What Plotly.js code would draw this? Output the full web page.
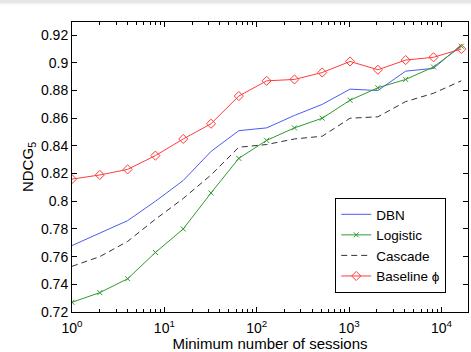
<!DOCTYPE html>
<html>
<head>
<meta charset="utf-8">
<script src="https://cdn.plot.ly/plotly-3.0.1.min.js"></script>
<style>html,body{margin:0;padding:0;background:#fff;}#chart{width:471px;height:352px;}</style>
</head>
<body>
<div id="chart"></div>
<script>
const sessions = [1, 2, 4, 8, 16, 32, 64, 128, 256, 512, 1024, 2048, 4096, 8192, 16384];
const dbn      = [0.768, 0.777, 0.786, 0.800, 0.815, 0.836, 0.851, 0.853, 0.862, 0.870, 0.881, 0.880, 0.894, 0.896, 0.913];
const logistic = [0.727, 0.734, 0.744, 0.763, 0.780, 0.806, 0.831, 0.844, 0.853, 0.860, 0.873, 0.882, 0.888, 0.897, 0.912];
const cascade  = [0.753, 0.760, 0.771, 0.787, 0.802, 0.819, 0.839, 0.841, 0.845, 0.847, 0.860, 0.861, 0.872, 0.878, 0.887];
const baseline = [0.816, 0.819, 0.823, 0.833, 0.845, 0.856, 0.876, 0.887, 0.888, 0.893, 0.901, 0.895, 0.902, 0.904, 0.910];
const seriesNames = ["DBN", "Logistic", "Cascade", "Baseline \u03d5"];
const yTitle = "NDCG<sub>5</sub>";
const xTitle = "Minimum number of sessions";
const yTickVals = [0.72, 0.74, 0.76, 0.78, 0.8, 0.82, 0.84, 0.86, 0.88, 0.9, 0.92];
const yTickText = ["0.72", "0.74", "0.76", "0.78", "0.8", "0.82", "0.84", "0.86", "0.88", "0.9", "0.92"];
const xTickVals = [1, 10, 100, 1000, 10000];
const xTickText = ["10<sup>0</sup>", "10<sup>1</sup>", "10<sup>2</sup>", "10<sup>3</sup>", "10<sup>4</sup>"];

const minorVals = [];
for (let d = 1; d <= 10000; d *= 10) for (let m = 2; m <= 9; m++) if (d * m < 20000) minorVals.push(d * m);

const traces = [
  {x: sessions, y: dbn, name: seriesNames[0], mode: "lines", line: {color: "#4a5cf0", width: 1}},
  {x: sessions, y: logistic, name: seriesNames[1], mode: "lines+markers", line: {color: "#2f9a2f", width: 1},
   marker: {symbol: "x-thin-open", size: 5, color: "#2f9a2f", line: {width: 1, color: "#2f9a2f"}}},
  {x: sessions, y: cascade, name: seriesNames[2], mode: "lines", line: {color: "#333333", width: 1, dash: "6px,4px"}},
  {x: sessions, y: baseline, name: seriesNames[3], mode: "lines+markers", line: {color: "#ff3b3b", width: 1},
   marker: {symbol: "diamond-open", size: 7, color: "#ff3b3b", line: {width: 1, color: "#ff3b3b"}}}
];

const fam = "Liberation Sans, Arial, sans-serif";
const layout = {
  width: 471, height: 352,
  margin: {l: 72, r: 3, t: 22, b: 40, pad: 0},
  paper_bgcolor: "#fff", plot_bgcolor: "#fff",
  font: {family: fam, size: 14, color: "#000"},
  showlegend: true,
  legend: {x: 0.945, xanchor: "right", y: 0.393, yanchor: "top", bgcolor: "#fff",
           bordercolor: "#000", borderwidth: 1, font: {family: fam, size: 13.5, color: "#000"},
           tracegroupgap: 0},
  shapes: [
    {type: "rect", xref: "paper", yref: "paper", x0: -0.2, x1: 1.02, y0: 1 + 19/290, y1: 1 + 22/290,
     fillcolor: "#e6e6e6", line: {width: 0}, layer: "below"},
    {type: "rect", xref: "paper", yref: "paper", x0: -0.2, x1: 1.02, y0: 1 + 17.5/290, y1: 1 + 19/290,
     fillcolor: "#f3f3f3", line: {width: 0}, layer: "below"}
  ],
  annotations: [
    {text: yTitle, xref: "paper", yref: "paper", x: -0.111, y: 0.5, xanchor: "center", yanchor: "middle",
     textangle: -90, showarrow: false, font: {family: fam, size: 15, color: "#000"}}
  ],
  xaxis: {type: "log", range: [0, 4.287], showgrid: false, zeroline: false,
          showline: true, linecolor: "#000", linewidth: 1, mirror: "ticks",
          ticks: "inside", ticklen: 5, tickcolor: "#000", ticklabelstandoff: 3,
          tickmode: "array", tickvals: xTickVals, ticktext: xTickText,
          tickfont: {family: fam, size: 14, color: "#000"},
          minor: {ticks: "inside", ticklen: 3, tickcolor: "#000", tickmode: "array", tickvals: minorVals, showgrid: false},
          title: {text: xTitle, font: {family: fam, size: 15, color: "#000"}, standoff: 1}},
  yaxis: {range: [0.72, 0.9295], showgrid: false, zeroline: false,
          showline: true, linecolor: "#000", linewidth: 1, mirror: "ticks",
          ticks: "inside", ticklen: 5, tickcolor: "#000",
          tickmode: "array", tickvals: yTickVals, ticktext: yTickText,
          tickfont: {family: fam, size: 14, color: "#000"}}
};

Plotly.newPlot("chart", traces, layout, {staticPlot: true, displayModeBar: false});
</script>
</body>
</html>
